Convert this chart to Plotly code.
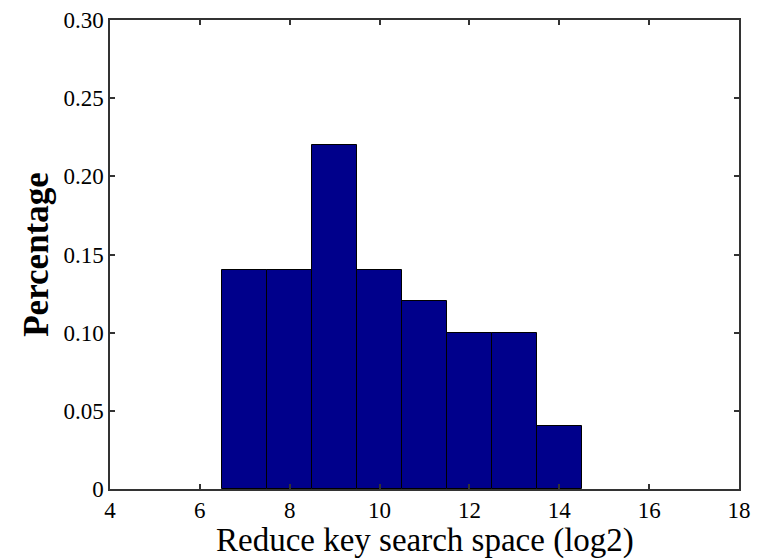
import plotly.graph_objects as go

bin_centers = [7, 8, 9, 10, 11, 12, 13, 14]
percentages = [0.14, 0.14, 0.22, 0.14, 0.12, 0.10, 0.10, 0.04]
x_ticks = [4, 6, 8, 10, 12, 14, 16, 18]
y_ticks = [0, 0.05, 0.10, 0.15, 0.20, 0.25, 0.30]
y_tick_labels = ["0", "0.05", "0.10", "0.15", "0.20", "0.25", "0.30"]
x_title = "Reduce key search space (log2)"
y_title = "Percentage"

FONT = "Liberation Serif"

fig = go.Figure(go.Bar(
    x=bin_centers, y=percentages, width=1,
    marker=dict(color="#00008B", line=dict(color="black", width=1)),
))

axis_common = dict(
    showline=True, linecolor="#333333", linewidth=1.5, mirror="ticks",
    ticks="inside", ticklen=5, tickcolor="#333333", tickwidth=1.5,
    showgrid=False, zeroline=False, automargin=False,
    ticklabeloverflow="allow",
    tickfont=dict(family=FONT, size=23, color="black"),
)

fig.update_layout(
    width=753, height=552,
    margin=dict(l=102, r=22, t=12, b=71),
    paper_bgcolor="white", plot_bgcolor="white",
    showlegend=False,
    bargap=0,
    xaxis=dict(range=[4, 18], tickvals=x_ticks, ticktext=[str(v) for v in x_ticks],
               **axis_common),
    yaxis=dict(range=[0, 0.30], tickvals=y_ticks, ticktext=y_tick_labels,
               title=dict(text="<b>" + y_title + "</b>",
                          font=dict(family=FONT, size=35, color="black"), standoff=4),
               **axis_common),
    annotations=[dict(
        text=x_title, xref="paper", yref="paper", x=0.5, y=-0.153,
        xanchor="center", yanchor="bottom", showarrow=False,
        font=dict(family=FONT, size=33, color="black"),
    )],
)

fig.write_html("out.html")
